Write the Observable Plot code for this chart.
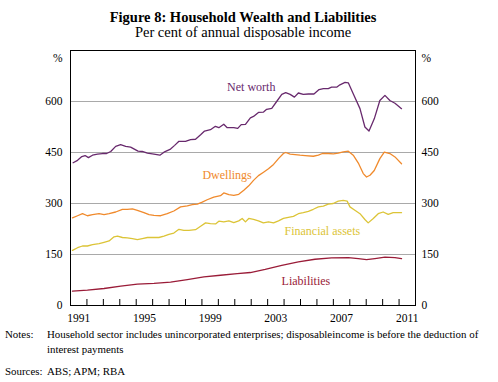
<!DOCTYPE html>
<html>
<head>
<meta charset="utf-8">
<script src="https://cdn.jsdelivr.net/npm/d3@7"></script>
<script src="https://cdn.jsdelivr.net/npm/@observablehq/plot@0.6"></script>
<style>
  html, body { margin: 0; padding: 0; background: #fff; }
  #wrap { position: relative; width: 498px; height: 382px; font-family: "Liberation Serif", "Times New Roman", serif; color: #000; }
  .t { position: absolute; left: 0; width: 486px; text-align: center; white-space: nowrap; }
  #title { top: 9px; font-size: 14.5px; font-weight: bold; }
  #subtitle { top: 24px; font-size: 14.5px; }
  #chart { position: absolute; left: 0; top: 42px; }
  .note { position: absolute; font-size: 10.9px; line-height: 15px; white-space: nowrap; }
</style>
</head>
<body>
<div id="wrap">
  <div id="title" class="t">Figure 8: Household Wealth and Liabilities</div>
  <div id="subtitle" class="t">Per cent of annual disposable income</div>
  <div id="chart"></div>
  <div class="note" style="left:5px; top:327px;">Notes:</div>
  <div class="note" style="left:47px; top:327px;">Household sector includes unincorporated enterprises; disposableincome is before the deduction of<br>interest payments</div>
  <div class="note" style="left:5px; top:364px;">Sources:</div>
  <div class="note" style="left:47px; top:364px;">ABS; APM; RBA</div>
</div>
<script>
// ---- Data ----
const nwYears = [1991.16,1991.43,1991.69,1991.89,1992.09,1992.34,1992.64,1992.94,1993.2,1993.45,1993.75,1994.05,1994.36,1994.66,1995.11,1995.37,1995.68,1996.08,1996.44,1996.69,1997.09,1997.34,1997.6,1998.0,1998.31,1998.61,1998.92,1999.16,1999.52,1999.82,2000.03,2000.33,2000.54,2000.94,2001.18,2001.39,2001.65,2001.95,2002.14,2002.44,2002.75,2002.94,2003.25,2003.55,2003.86,2004.1,2004.37,2004.63,2004.87,2005.17,2005.48,2005.82,2006.13,2006.39,2006.69,2006.89,2007.2,2007.4,2007.71,2007.91,2008.21,2008.62,2008.92,2009.17,2009.49,2009.83,2010.14,2010.44,2010.75,2011.15];
const nwValues = [420,427,438,441,435,442,445,447,447,453,468,473,468,466,454,453,448,445,442,451,460,471,483,483,488,489,502,513,517,527,523,533,523,523,521,532,533,552,556,568,569,577,580,600,621,626,621,613,625,621,622,622,635,638,638,642,642,649,656,655,623,579,525,513,549,603,618,603,595,579];

const dwYears = [1991.12,1991.43,1991.73,1992.03,1992.34,1992.74,1993.04,1993.35,1993.75,1994.16,1994.46,1994.77,1995.07,1995.47,1995.78,1996.08,1996.49,1996.89,1997.29,1997.7,1998.11,1998.41,1998.72,1999.02,1999.32,1999.72,2000.13,2000.33,2000.64,2000.94,2001.24,2001.55,2001.85,2002.14,2002.44,2002.75,2003.05,2003.36,2003.66,2003.96,2004.1,2004.37,2004.67,2004.97,2005.28,2005.78,2006.09,2006.33,2006.69,2007.0,2007.3,2007.6,2007.91,2008.21,2008.52,2008.82,2009.02,2009.23,2009.49,2009.83,2010.1,2010.44,2010.75,2011.15];
const dwValues = [258,264,270,264,267,270,267,270,275,283,283,284,280,273,267,265,264,270,278,290,293,297,298,304,311,319,323,331,326,324,327,339,352,368,382,392,402,415,432,447,450,445,444,442,441,439,442,447,447,446,448,452,454,442,419,388,378,383,397,432,451,447,437,417];

const faYears = [1991.12,1991.43,1991.73,1992.03,1992.34,1992.74,1993.04,1993.35,1993.65,1993.86,1994.16,1994.46,1994.77,1995.07,1995.37,1995.68,1996.08,1996.38,1996.69,1996.99,1997.29,1997.6,1997.9,1998.21,1998.61,1998.92,1999.22,1999.52,1999.83,2000.03,2000.33,2000.64,2000.94,2001.24,2001.45,2001.65,2001.85,2002.14,2002.44,2002.74,2003.05,2003.36,2003.66,2003.96,2004.26,2004.57,2004.87,2005.17,2005.48,2005.78,2006.09,2006.39,2006.69,2006.99,2007.3,2007.6,2007.84,2008.01,2008.31,2008.62,2008.92,2009.12,2009.43,2009.73,2010.03,2010.34,2010.64,2011.15];
const faValues = [162,170,175,175,179,182,186,190,202,204,200,199,197,194,197,200,200,200,204,209,213,224,221,221,223,233,243,241,240,248,246,249,244,249,256,246,256,253,249,243,246,243,249,256,259,262,270,273,277,283,290,292,298,300,307,309,307,290,280,270,253,243,256,270,275,268,273,273];

const liYears = [1991.12,1992.03,1993.04,1994.06,1995.07,1996.08,1997.09,1998.11,1999.12,2000.13,2001.15,2001.95,2002.85,2003.86,2004.87,2005.88,2006.89,2007.91,2008.52,2009.02,2009.53,2010.14,2010.75,2011.15];
const liValues = [42,45,50,57,63,65,69,76,84,89,94,97,106,118,128,136,140,141,138,135,138,142,141,138];

const yTicks = [0, 150, 300, 450, 600];
const gridValues = [150, 300, 450, 600];
const xTickYears = d3.range(1992, 2012);
const xLabelYears = [1991, 1995, 1999, 2003, 2007, 2011];

const colors = { nw: "#68296d", dw: "#f08a2c", fa: "#dcc437", li: "#9a1c38" };

const seriesLabels = [
  { text: "Net worth", year: 2002.0, value: 641, color: colors.nw },
  { text: "Dwellings", year: 2000.53, value: 383, color: colors.dw },
  { text: "Financial assets", year: 2006.33, value: 219, color: colors.fa },
  { text: "Liabilities", year: 2005.33, value: 71, color: colors.li }
];

const H = 284, MT = 8, MB = 21;

const chart = Plot.plot({
  width: 498,
  height: H,
  marginTop: MT,
  marginBottom: MB,
  marginLeft: 70,
  marginRight: 83,
  x: { domain: [1991, 2012] },
  y: { domain: [0, 750] },
  style: { fontFamily: "'Liberation Serif', 'Times New Roman', serif", fontSize: "11.5px", color: "#000", background: "#fff", overflow: "visible" },
  marks: [
    Plot.gridY(gridValues, { stroke: "#a9a9a9", strokeOpacity: 1, strokeWidth: 1 }),
    Plot.line(liValues, { x: (d, i) => liYears[i], y: d => d, stroke: colors.li, strokeWidth: 1.3 }),
    Plot.line(faValues, { x: (d, i) => faYears[i], y: d => d, stroke: colors.fa, strokeWidth: 1.3 }),
    Plot.line(dwValues, { x: (d, i) => dwYears[i], y: d => d, stroke: colors.dw, strokeWidth: 1.3 }),
    Plot.line(nwValues, { x: (d, i) => nwYears[i], y: d => d, stroke: colors.nw, strokeWidth: 1.3 }),
    Plot.ruleX(xTickYears, { x: d => d, insetTop: H - MT - MB - 6, stroke: "#000", strokeWidth: 1 }),
    Plot.frame({ stroke: "#000", strokeWidth: 1 }),
    Plot.axisY(yTicks, { anchor: "left", tickSize: 0, tickPadding: 8, label: null }),
    Plot.axisY(yTicks, { anchor: "right", tickSize: 0, tickPadding: 6, label: null }),
    Plot.text(["%"], { frameAnchor: "top-left", dx: -8, dy: 3, textAnchor: "end", fontSize: 11.5 }),
    Plot.text(["%"], { frameAnchor: "top-right", dx: 6, dy: 3, textAnchor: "start", fontSize: 11.5 }),
    Plot.axisX(xLabelYears.map(y => y + 0.5), { tickSize: 0, tickPadding: 8, tickFormat: d => String(Math.floor(d)), label: null }),
    Plot.text(seriesLabels, { x: "year", y: "value", text: "text", fill: d => d.color, fontSize: 12 })
  ]
});
document.getElementById("chart").appendChild(chart);
</script>
</body>
</html>
